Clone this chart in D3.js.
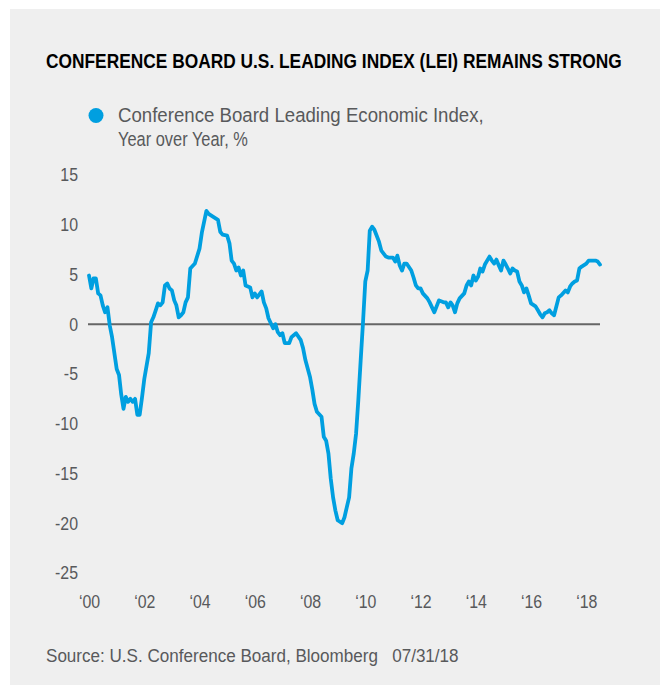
<!DOCTYPE html>
<html>
<head>
<meta charset="utf-8">
<script src="https://cdn.jsdelivr.net/npm/d3@7/dist/d3.min.js"></script>
<style>
  html, body { margin: 0; padding: 0; background: #ffffff; }
  svg { display: block; }
  text { font-family: 'Liberation Sans', Arial, sans-serif; }
</style>
</head>
<body>
<svg id="chart" width="660" height="687"></svg>
<script>
// ---- data ----
const title = "CONFERENCE BOARD U.S. LEADING INDEX (LEI) REMAINS STRONG";
const legendLines = ["Conference Board Leading Economic Index,", "Year over Year, %"];
const sourceText = "Source: U.S. Conference Board, Bloomberg\u00a0\u00a0\u00a007/31/18";

const yTicks = [15, 10, 5, 0, -5, -10, -15, -20, -25];
const xTickYears = [2000, 2002, 2004, 2006, 2008, 2010, 2012, 2014, 2016, 2018];
const xTickLabels = ["\u201800", "\u201802", "\u201804", "\u201806", "\u201808", "\u201810", "\u201812", "\u201814", "\u201816", "\u201818"];

const months = [
  "2000-01","2000-02","2000-03","2000-04","2000-05","2000-06","2000-07","2000-08","2000-09","2000-10","2000-11",
  "2001-01","2001-02","2001-03","2001-04","2001-05","2001-06","2001-07","2001-08","2001-09","2001-10","2001-11","2001-12",
  "2002-01","2002-03","2002-04","2002-05","2002-06","2002-07","2002-08","2002-09","2002-10","2002-11","2002-12",
  "2003-01","2003-02","2003-03","2003-04","2003-05","2003-06","2003-07","2003-08","2003-09","2003-11",
  "2004-01","2004-02","2004-04","2004-05","2004-07","2004-09","2004-10","2004-11",
  "2005-01","2005-02","2005-03","2005-04","2005-05","2005-06","2005-07","2005-08","2005-09","2005-11","2005-12",
  "2006-01","2006-02","2006-04","2006-05","2006-06","2006-07","2006-09","2006-10","2006-11","2006-12",
  "2007-01","2007-02","2007-03","2007-04","2007-05","2007-07","2007-09","2007-10","2007-11",
  "2008-01","2008-02","2008-03","2008-04","2008-06","2008-07","2008-08","2008-09","2008-10","2008-11","2008-12",
  "2009-01","2009-03","2009-04","2009-05","2009-06","2009-07","2009-08","2009-09","2009-10","2009-11","2009-12",
  "2010-01","2010-02","2010-03","2010-04","2010-05","2010-07","2010-08","2010-10","2010-11",
  "2011-01","2011-02","2011-03","2011-04","2011-05","2011-06","2011-07","2011-09","2011-10","2011-11","2011-12",
  "2012-01","2012-02","2012-04","2012-05","2012-06","2012-07","2012-08","2012-09","2012-11","2012-12",
  "2013-01","2013-02","2013-03","2013-04","2013-05","2013-06","2013-08","2013-09","2013-10","2013-11","2013-12",
  "2014-01","2014-02","2014-03","2014-04","2014-05","2014-07","2014-08","2014-09","2014-10","2014-11","2014-12",
  "2015-01","2015-02","2015-03","2015-04","2015-05","2015-06","2015-07","2015-08","2015-09","2015-10","2015-11","2015-12",
  "2016-01","2016-03","2016-04","2016-05","2016-06","2016-07","2016-08","2016-09","2016-10","2016-11",
  "2017-01","2017-02","2017-04","2017-05","2017-06","2017-07","2017-08","2017-09","2017-10","2017-11",
  "2018-01","2018-02","2018-03","2018-05","2018-06","2018-07"
];
const leiYoY = [
  4.9,3.6,4.6,4.6,3.1,2.9,1.9,1.2,1.7,-0.1,-1.3,
  -4.5,-5.1,-7.0,-8.5,-7.3,-7.8,-7.5,-7.8,-7.5,-9.1,-9.1,-7.4,
  -5.5,-2.9,0.2,0.7,1.4,2.1,1.9,2.2,3.9,4.1,3.6,
  3.4,2.4,1.9,0.7,0.9,1.2,2.2,2.7,5.6,6.1,
  7.6,9.2,11.4,11.1,10.8,10.5,9.3,9.0,
  8.9,8.1,6.4,6.1,5.4,5.7,4.9,5.4,3.9,3.7,2.7,
  3.1,2.7,3.3,2.2,1.6,0.6,-0.4,0.0,-0.8,-1.1,
  -0.9,-1.9,-1.9,-1.9,-1.3,-0.9,-1.6,-2.4,-3.6,
  -5.3,-6.6,-8.0,-8.8,-9.3,-11.3,-11.7,-13.0,-15.5,-17.4,-18.7,
  -19.7,-20.0,-19.4,-18.4,-17.4,-14.5,-13.0,-11.0,-7.6,-3.6,0.1,
  4.3,5.4,9.4,9.8,9.5,8.3,7.4,6.8,6.7,
  6.7,6.3,6.9,5.9,5.4,6.1,6.1,5.4,4.7,3.9,3.6,
  3.6,3.1,2.6,2.2,1.7,1.2,1.8,2.4,2.2,2.2,
  1.7,2.2,1.9,1.2,2.1,2.6,3.1,3.9,4.3,3.9,4.9,
  4.4,4.8,5.6,5.3,6.0,6.8,6.4,6.1,6.5,5.9,5.4,
  6.4,6.0,5.6,5.1,5.6,5.4,5.3,4.3,3.9,3.2,3.6,2.9,
  2.1,1.8,1.4,1.0,0.7,1.1,1.2,1.4,1.1,0.9,
  2.7,2.9,3.4,3.2,3.8,4.1,4.3,4.4,5.6,5.8,
  6.1,6.4,6.4,6.4,6.3,6.0
];

// ---- drawing ----
const svg = d3.select("#chart");
const lineColor = "#009fe0";
const textGray = "#58595b";
const squeeze = 0.86; // condensed look for tick labels

svg.append("rect").attr("x", 10).attr("y", 9).attr("width", 650).attr("height", 676).attr("fill", "#efefef");

const parse = d3.timeParse("%Y-%m");
const data = months.map((m, i) => ({ date: parse(m), value: leiYoY[i] }));

const x = d3.scaleTime()
  .domain([new Date(2000, 0, 1), new Date(2018, 6, 1)])
  .range([89, 600]);
const y = d3.scaleLinear().domain([-25, 15]).range([573, 175]);

// text condensed horizontally to a target width (the reference uses a condensed face)
function fitText(str, px, py, size, weight, fill, targetW) {
  const t = svg.append("text")
    .attr("x", 0).attr("y", 0)
    .attr("font-size", size).attr("font-weight", weight).attr("fill", fill)
    .text(str);
  const w = t.node().getComputedTextLength();
  t.attr("transform", `translate(${px},${py}) scale(${targetW / w},1)`);
  return t;
}

// title
fitText(title, 46, 68, 21, "bold", "#000", 576);

// legend
svg.append("circle").attr("cx", 96).attr("cy", 115.5).attr("r", 7.5).attr("fill", lineColor);
fitText(legendLines[0], 118, 122, 19.5, "normal", textGray, 366);
fitText(legendLines[1], 118, 146, 19.5, "normal", textGray, 130);

// y axis labels
const yAxis = d3.axisLeft(y).tickValues(yTicks).tickSize(0).tickPadding(0)
  .tickFormat(d => d3.format("d")(d).replace("\u2212", "-"));
const yg = svg.append("g").attr("transform", "translate(78,0)").call(yAxis);
yg.select(".domain").remove();
yg.selectAll("text").attr("font-size", 18.5).attr("fill", textGray).attr("font-family", null)
  .attr("transform", `scale(${squeeze},1)`);

// x axis labels
const xAxis = d3.axisBottom(x)
  .tickValues(xTickYears.map(yr => new Date(yr, 0, 1)))
  .tickSize(0).tickPadding(0)
  .tickFormat((d, i) => xTickLabels[i]);
const xg = svg.append("g").attr("transform", "translate(0,595)").call(xAxis);
xg.select(".domain").remove();
xg.selectAll("text").attr("font-size", 18.5).attr("fill", textGray).attr("font-family", null)
  .attr("dy", "0.71em").attr("transform", `scale(${squeeze},1)`);

// zero line
svg.append("line")
  .attr("x1", 88).attr("x2", 600)
  .attr("y1", y(0)).attr("y2", y(0))
  .attr("stroke", "#666666").attr("stroke-width", 2);

// series line
svg.append("path")
  .datum(data)
  .attr("fill", "none")
  .attr("stroke", lineColor)
  .attr("stroke-width", 3.8)
  .attr("stroke-linejoin", "round")
  .attr("stroke-linecap", "round")
  .attr("d", d3.line().x(d => x(d.date)).y(d => y(d.value)));

// source
fitText(sourceText, 46, 662, 19, "normal", textGray, 413);
</script>
</body>
</html>
